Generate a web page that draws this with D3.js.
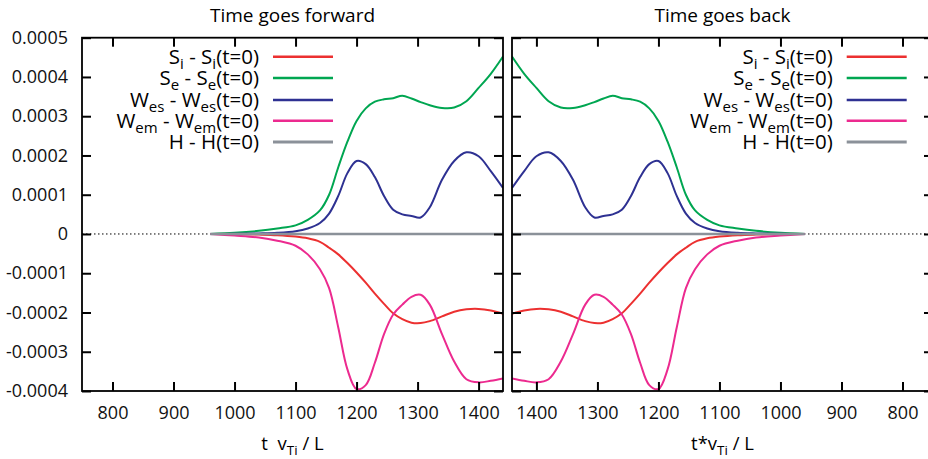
<!DOCTYPE html>
<html>
<head>
<meta charset="utf-8">
<script src="https://cdn.jsdelivr.net/npm/d3@7"></script>
<style>
  body { margin: 0; background: #fff; }
  svg { display: block; font-family: "Open Sans", sans-serif; }
  .tick text { font-size: 18px; fill: #111; }
</style>
</head>
<body>
<svg id="chart"></svg>
<script>
// time axis (t vTi / L) shared by all series
const tGrid = [960, 1000, 1040, 1070, 1100, 1120, 1140, 1155, 1170, 1185, 1200, 1215, 1230,
  1245, 1260, 1275, 1290, 1305, 1320, 1340, 1360, 1380, 1400, 1420, 1440];

// values in units of 1e-4
const sI = [0, -0.005, -0.015, -0.03, -0.065, -0.11, -0.2, -0.35, -0.52, -0.74, -0.98, -1.24, -1.52,
  -1.78, -2.02, -2.17, -2.26, -2.27, -2.22, -2.1, -1.98, -1.92, -1.91, -1.95, -2.03];
const sE = [0, 0.03, 0.08, 0.14, 0.22, 0.36, 0.6, 1.0, 1.7, 2.35, 2.88, 3.2, 3.37,
  3.43, 3.46, 3.52, 3.45, 3.36, 3.28, 3.21, 3.22, 3.38, 3.72, 4.08, 4.52];
const wEs = [0, 0.005, 0.015, 0.03, 0.07, 0.14, 0.28, 0.52, 0.97, 1.55, 1.86, 1.78, 1.45,
  0.97, 0.62, 0.5, 0.46, 0.42, 0.68, 1.38, 1.86, 2.08, 1.98, 1.6, 1.17];
const wEm = [0, -0.04, -0.09, -0.17, -0.3, -0.52, -0.9, -1.38, -2.38, -3.45, -3.95, -3.85, -3.28,
  -2.55, -2.05, -1.8, -1.6, -1.55, -1.8, -2.55, -3.25, -3.7, -3.78, -3.74, -3.68];
const hTot = [0, 0, 0, 0, 0, 0, 0, 0, 0, 0, 0, 0, 0, 0, 0, 0, 0, 0, 0, 0, 0, 0, 0, 0, 0];

const xTicks = [800, 900, 1000, 1100, 1200, 1300, 1400];
const yTicks = [-4, -3, -2, -1, 0, 1, 2, 3, 4, 5];
const yTickLabels = ['-0.0004', '-0.0003', '-0.0002', '-0.0001', '0',
  '0.0001', '0.0002', '0.0003', '0.0004', '0.0005'];

const seriesNames = [['S', 'i'], ['S', 'e'], ['W', 'es'], ['W', 'em'], ['H', '']];
const seriesValues = [sI, sE, wEs, wEm, hTot];
const seriesColors = ['#ec3030', '#00a651', '#2e3192', '#ec2a8f', '#8b9199'];

const panelTitles = ['Time goes forward', 'Time goes back'];

const width = 928, height = 459;
const plotTop = 37.7, plotBottom = 391;

// the backward run mirrors the forward one, so the same arrays are plotted on a reversed axis
const panels = [
  { x0: 82, x1: 503, domain: [750, 1440], legendX: 259, yLabels: true,
    title: panelTitles[0], label: ['t\u00a0\u00a0v', 'Ti', ' / L'] },
  { x0: 512, x1: 933, domain: [1440, 750], legendX: 832.7, yLabels: false,
    title: panelTitles[1], label: ['t*v', 'Ti', ' / L'] }
];

const svg = d3.select('#chart').attr('width', width).attr('height', height);

const yScale = d3.scaleLinear().domain([-4, 5]).range([plotBottom, plotTop]);

panels.forEach((p, pi) => {
  const xScale = d3.scaleLinear().domain(p.domain).range([p.x0, p.x1]);
  const g = svg.append('g');

  const clipId = 'clip' + pi;
  g.append('clipPath').attr('id', clipId)
    .append('rect')
    .attr('x', p.x0).attr('y', plotTop)
    .attr('width', p.x1 - p.x0).attr('height', plotBottom - plotTop);

  // zero line
  g.append('line')
    .attr('x1', p.x0).attr('x2', p.x1)
    .attr('y1', yScale(0)).attr('y2', yScale(0))
    .attr('stroke', '#000')
    .attr('stroke-width', 1)
    .attr('stroke-dasharray', '1.5,2.5');

  const line = d3.line()
    .x((d, i) => xScale(tGrid[i]))
    .y(d => yScale(d))
    .curve(d3.curveCatmullRom.alpha(0.5));

  const curves = g.append('g').attr('clip-path', `url(#${clipId})`);
  [0, 1, 2, 3, 4].forEach(k => {
    curves.append('path')
      .attr('d', line(seriesValues[k]))
      .attr('fill', 'none')
      .attr('stroke', seriesColors[k])
      .attr('stroke-width', k === 4 ? 2.6 : 2);
  });

  // axes with inward ticks
  const xAxis = d3.axisBottom(xScale)
    .tickValues(xTicks)
    .tickFormat(d3.format('d'))
    .tickSizeInner(-9).tickSizeOuter(0).tickPadding(15);
  const xg = g.append('g')
    .attr('transform', `translate(0,${plotBottom})`)
    .call(xAxis);

  const xTop = d3.axisTop(xScale)
    .tickValues(xTicks).tickFormat('')
    .tickSizeInner(-9).tickSizeOuter(0);
  const xtg = g.append('g')
    .attr('transform', `translate(0,${plotTop})`)
    .call(xTop);

  const yAxis = d3.axisLeft(yScale)
    .tickValues(yTicks)
    .tickFormat((d, i) => p.yLabels ? yTickLabels[i] : '')
    .tickSizeInner(-9).tickSizeOuter(0).tickPadding(14);
  const yg = g.append('g')
    .attr('transform', `translate(${p.x0},0)`)
    .call(yAxis);

  const yRight = d3.axisRight(yScale)
    .tickValues(yTicks).tickFormat('')
    .tickSizeInner(-9).tickSizeOuter(0);
  const yrg = g.append('g')
    .attr('transform', `translate(${p.x1},0)`)
    .call(yRight);

  [xg, xtg, yg, yrg].forEach(a => {
    a.select('.domain').remove();
    a.selectAll('.tick line').attr('stroke', '#000').attr('stroke-width', 2);
    a.selectAll('.tick text').style('font-family', '"Open Sans", sans-serif');
  });

  g.append('rect')
    .attr('x', p.x0).attr('y', plotTop)
    .attr('width', p.x1 - p.x0).attr('height', plotBottom - plotTop)
    .attr('fill', 'none').attr('stroke', '#000').attr('stroke-width', 1.8);

  // title
  g.append('text')
    .attr('x', (p.x0 + p.x1) / 2).attr('y', 22)
    .attr('text-anchor', 'middle')
    .style('font-size', '19px')
    .text(p.title);

  // x label
  const lab = g.append('text')
    .attr('x', (p.x0 + p.x1) / 2).attr('y', 450)
    .attr('text-anchor', 'middle')
    .style('font-size', '18.5px');
  lab.append('tspan').text(p.label[0]);
  lab.append('tspan').attr('dy', 5).style('font-size', '13.5px').text(p.label[1]);
  lab.append('tspan').attr('dy', -5).text(p.label[2]);

  // legend
  const rowY = [56.7, 78, 100, 120.7, 142];
  seriesNames.forEach((nm, k) => {
    const y = rowY[k];
    const t = g.append('text')
      .attr('x', p.legendX).attr('y', y + 7)
      .attr('text-anchor', 'end')
      .style('font-size', '20.5px');
    t.append('tspan').text(nm[0]);
    if (nm[1]) t.append('tspan').attr('dy', 5).style('font-size', '15px').text(nm[1]);
    t.append('tspan').attr('dy', nm[1] ? -5 : 0).text(' - ' + nm[0]);
    if (nm[1]) t.append('tspan').attr('dy', 5).style('font-size', '15px').text(nm[1]);
    t.append('tspan').attr('dy', nm[1] ? -5 : 0).text('(t=0)');

    g.append('line')
      .attr('x1', p.legendX + 14).attr('x2', p.legendX + 74)
      .attr('y1', y).attr('y2', y)
      .attr('stroke', seriesColors[k])
      .attr('stroke-width', k === 4 ? 3 : 2.6);
  });
});
</script>
</body>
</html>
